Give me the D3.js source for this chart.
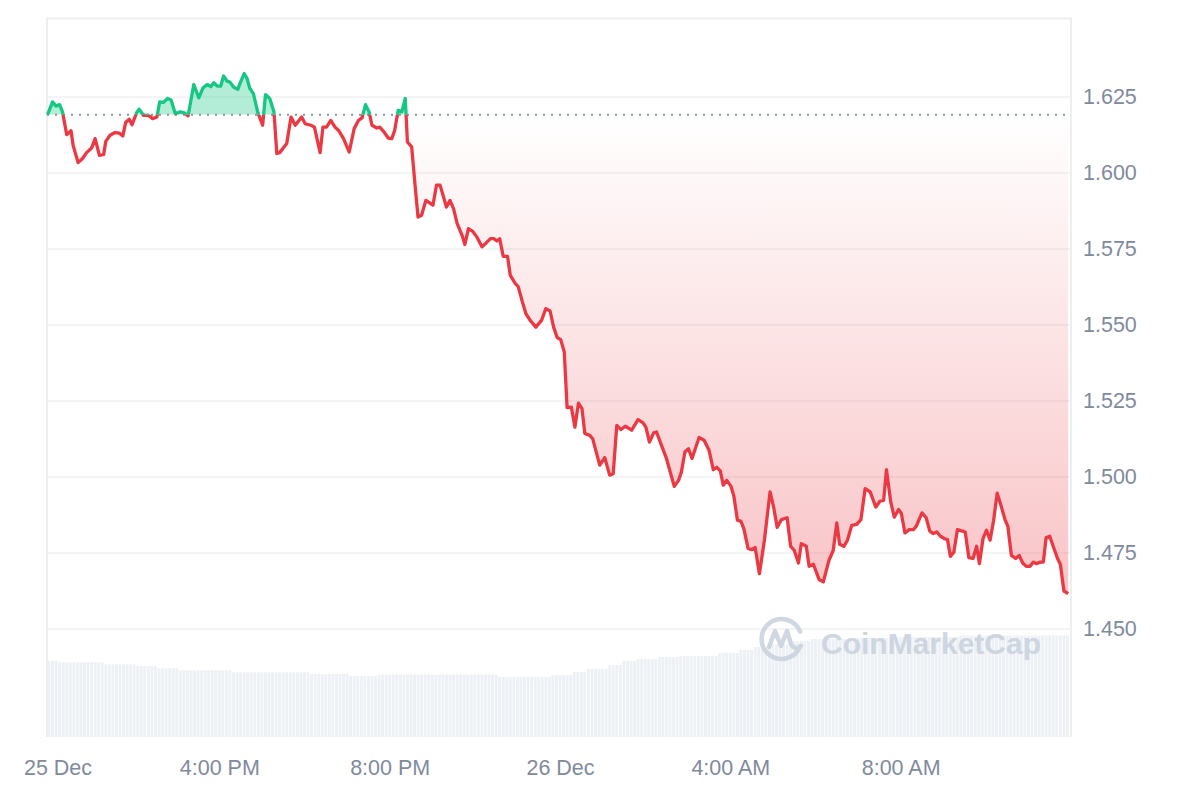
<!DOCTYPE html>
<html>
<head>
<meta charset="utf-8">
<script src="https://cdn.jsdelivr.net/npm/d3@7"></script>
<style>
  html, body { margin: 0; padding: 0; background: #ffffff; }
  svg { display: block; }
  text { font-family: "Liberation Sans", Arial, Helvetica, sans-serif; }
</style>
</head>
<body>
<svg id="chart" width="1200" height="800"></svg>
<script>
// ---------------- DATA ----------------
// minutes after 12:00 PM, 25 Dec
const minutes = [
  -2, 5, 10, 15, 19, 25, 31, 34, 41, 47, 53, 60, 65, 71, 77, 80, 86, 93, 99, 104,
  108, 113, 117, 124, 127, 133, 140, 146, 152, 156, 161, 167, 172, 178, 185, 190, 196, 204, 211, 217,
  223, 228, 232, 237, 242, 246, 251, 255, 260, 266, 269, 275, 279, 283, 288, 294, 301, 305, 311, 317,
  321, 325, 335, 341, 347, 356, 361, 369, 374, 382, 386, 391, 397, 403, 408, 415, 423, 430, 436, 441,
  446, 451, 455, 462, 466, 472, 478, 483, 487, 492, 497, 502, 505, 511, 516, 520, 525, 531, 541, 546,
  551, 560, 565, 570, 575, 582, 586, 591, 597, 603, 610, 616, 622, 627, 631, 635, 640, 646, 650, 657,
  661, 667, 672, 678, 686, 694, 700, 706, 711, 716, 721, 726, 730, 736, 741, 746, 751, 755, 762, 766,
  776, 783, 790, 795, 800, 806, 812, 821, 830, 837, 841, 846, 852, 856, 863, 870, 881, 887, 891, 896,
  901, 906, 916, 923, 930, 936, 941, 946, 950, 955, 961, 965, 970, 975, 979, 985, 990, 995, 1001, 1008,
  1016, 1021, 1026, 1032, 1040, 1045, 1050, 1056, 1060, 1067, 1071, 1077, 1085, 1091, 1099, 1105, 1110, 1114, 1120, 1125,
  1131, 1138, 1144, 1150, 1157, 1165, 1171, 1176, 1180, 1186, 1191, 1197, 1201, 1206, 1212, 1218, 1222, 1230, 1236, 1241,
  1246, 1251, 1256, 1262, 1266, 1270, 1275, 1280, 1287, 1291, 1296, 1302, 1307, 1311, 1316, 1321, 1326, 1331, 1336, 1342,
  1347, 1351, 1356, 1362, 1367, 1372, 1377, 1382, 1387, 1391, 1397, 1401, 1405, 1410, 1416, 1421, 1425, 1430, 1436
];
const prices = [
  1.6192, 1.6234, 1.6220, 1.6225, 1.6201, 1.6126, 1.6139, 1.6091, 1.6034, 1.6047, 1.6067, 1.6082, 1.6113, 1.6058, 1.6061, 1.6104, 1.6124, 1.6133, 1.6131, 1.6122,
  1.6166, 1.6177, 1.6159, 1.6201, 1.6210, 1.6190, 1.6190, 1.6179, 1.6184, 1.6234, 1.6232, 1.6245, 1.6240, 1.6195, 1.6201, 1.6199, 1.6188, 1.6291, 1.6247, 1.6280,
  1.6291, 1.6284, 1.6297, 1.6286, 1.6286, 1.6319, 1.6302, 1.6299, 1.6283, 1.6275, 1.6294, 1.6327, 1.6311, 1.6278, 1.6261, 1.6201, 1.6157, 1.6258, 1.6245, 1.6201,
  1.6064, 1.6067, 1.6097, 1.6184, 1.6157, 1.6184, 1.6162, 1.6157, 1.6151, 1.6067, 1.6151, 1.6151, 1.6173, 1.6151, 1.6140, 1.6113, 1.6069, 1.6146, 1.6173, 1.6181,
  1.6225, 1.6201, 1.6157, 1.6148, 1.6151, 1.6135, 1.6115, 1.6113, 1.6140, 1.6206, 1.6201, 1.6245, 1.6102, 1.6086, 1.5954, 1.5855, 1.5861, 1.5910, 1.5894, 1.5960,
  1.5960, 1.5888, 1.5910, 1.5883, 1.5834, 1.5795, 1.5765, 1.5817, 1.5808, 1.5789, 1.5757, 1.5770, 1.5784, 1.5784, 1.5776, 1.5784, 1.5726, 1.5726, 1.5663, 1.5636,
  1.5627, 1.5576, 1.5537, 1.5515, 1.5493, 1.5515, 1.5554, 1.5546, 1.5493, 1.5459, 1.5452, 1.5411, 1.5228, 1.5230, 1.5164, 1.5243, 1.5225, 1.5143, 1.5137, 1.5126,
  1.5039, 1.5064, 1.5006, 1.5011, 1.5170, 1.5156, 1.5167, 1.5154, 1.5189, 1.5178, 1.5164, 1.5115, 1.5145, 1.5148, 1.5104, 1.5061, 1.4969, 1.4989, 1.5016, 1.5082,
  1.5093, 1.5061, 1.5130, 1.5121, 1.5088, 1.5024, 1.5032, 1.5019, 1.4973, 1.4989, 1.4969, 1.4937, 1.4858, 1.4854, 1.4830, 1.4765, 1.4761, 1.4768, 1.4682, 1.4792,
  1.4951, 1.4901, 1.4834, 1.4860, 1.4866, 1.4772, 1.4759, 1.4717, 1.4781, 1.4772, 1.4706, 1.4713, 1.4663, 1.4655, 1.4726, 1.4759, 1.4849, 1.4779, 1.4772, 1.4792,
  1.4841, 1.4844, 1.4860, 1.4962, 1.4951, 1.4901, 1.4921, 1.4923, 1.5024, 1.4918, 1.4868, 1.4893, 1.4880, 1.4816, 1.4827, 1.4827, 1.4838, 1.4882, 1.4866, 1.4822,
  1.4814, 1.4819, 1.4805, 1.4797, 1.4794, 1.4739, 1.4753, 1.4827, 1.4822, 1.4819, 1.4735, 1.4732, 1.4772, 1.4715, 1.4797, 1.4825, 1.4792, 1.4858, 1.4947, 1.4901,
  1.4860, 1.4838, 1.4742, 1.4732, 1.4742, 1.4717, 1.4706, 1.4706, 1.4720, 1.4715, 1.4720, 1.4720, 1.4801, 1.4805, 1.4765, 1.4732, 1.4713, 1.4625, 1.4616
];
const openPrice = 1.6192;

// 24h volume (M USD) per 5-minute bar, run-length encoded: [bar count, value]
const volumeRuns = [
  [3, 76.3], [13, 74.7], [9, 72.7], [6, 71.0], [6, 68.7], [15, 66.7], [22, 64.7], [11, 63.0], [8, 61.0],
  [34, 62.5], [15, 60.0], [6, 62.0], [4, 65.0], [6, 68.0], [4, 72.0], [4, 76.0], [6, 78.0], [6, 80.0],
  [11, 81.0], [6, 84.0], [4, 87.0], [4, 90.0], [6, 93.0], [6, 96.0], [11, 98.0], [14, 99.0], [17, 100.0], [31, 101.5]
];

const yTicks = [1.450, 1.475, 1.500, 1.525, 1.550, 1.575, 1.600, 1.625];
const xTickHours = [0, 4, 8, 12, 16, 20];
const xTickLabels = ["25 Dec", "4:00 PM", "8:00 PM", "26 Dec", "4:00 AM", "8:00 AM"];

// ---------------- CHART ----------------
const svg = d3.select("#chart");
const start = new Date(2024, 11, 25, 12, 0, 0);
const toDate = m => new Date(start.getTime() + m * 60000);

const plotL = 47, plotR = 1071, plotT = 18.5, plotB = 737;

const x = d3.scaleTime()
  .domain([start, toDate(1440)])
  .range([49, 1071]);
const y = d3.scaleLinear()
  .domain([1.450, 1.625])
  .range([629, 97]);
const yVol = d3.scaleLinear()
  .domain([0, 120])
  .range([plotB, 617]);

const data = minutes.map((m, i) => ({ t: toDate(m), p: prices[i] }));
const yRef = y(openPrice);

// expand volume runs
const volumes = [];
volumeRuns.forEach(([n, v]) => { for (let k = 0; k < n; k++) volumes.push(v); });
const volData = volumes.map((v, i) => ({ t: toDate(-2 + 5 * i), v }));

const defs = svg.append("defs");
defs.append("clipPath").attr("id", "clipAbove")
  .append("rect").attr("x", 0).attr("y", 0).attr("width", 1200).attr("height", yRef);
defs.append("clipPath").attr("id", "clipBelow")
  .append("rect").attr("x", 0).attr("y", yRef).attr("width", 1200).attr("height", 800 - yRef);

const minP = d3.min(prices);
const redGrad = defs.append("linearGradient").attr("id", "redGrad")
  .attr("gradientUnits", "userSpaceOnUse")
  .attr("x1", 0).attr("x2", 0).attr("y1", yRef).attr("y2", y(minP));
redGrad.append("stop").attr("offset", "0%").attr("stop-color", "#ea3943").attr("stop-opacity", 0.0);
redGrad.append("stop").attr("offset", "100%").attr("stop-color", "#ea3943").attr("stop-opacity", 0.3);

// volume bars
const barW = x(toDate(5)) - x(toDate(0));
svg.append("g").selectAll("rect").data(volData).enter().append("rect")
  .attr("x", d => x(d.t))
  .attr("y", d => yVol(d.v))
  .attr("width", barW - 0.7)
  .attr("height", d => plotB - yVol(d.v))
  .attr("fill", "#edf0f4");

// grid lines
svg.append("g").selectAll("line").data(yTicks).enter().append("line")
  .attr("x1", plotL).attr("x2", plotR)
  .attr("y1", d => y(d)).attr("y2", d => y(d))
  .attr("stroke", "#eff0f2").attr("stroke-width", 1.5);

// frame
const frame = svg.append("g").attr("stroke", "#eeeeee").attr("stroke-width", 2).attr("fill", "none");
frame.append("line").attr("x1", plotL).attr("x2", plotR).attr("y1", plotT).attr("y2", plotT);
frame.append("line").attr("x1", plotL).attr("x2", plotL).attr("y1", plotT - 1).attr("y2", plotB);
frame.append("line").attr("x1", plotR).attr("x2", plotR).attr("y1", plotT - 1).attr("y2", plotB);

// watermark
const wm = svg.append("g").attr("opacity", 0.85);
const cx = 782, cy = 638, r = 20;
const a0 = 25 * Math.PI / 180;
wm.append("path")
  .attr("d", `M ${cx + r * Math.cos(a0)} ${cy + r * Math.sin(a0)} A ${r} ${r} 0 1 1 ${cx + r * Math.cos(a0)} ${cy - r * Math.sin(a0) + 2}`)
  .attr("fill", "none").attr("stroke", "#c8d1de").attr("stroke-width", 4.5).attr("stroke-linecap", "round");
wm.append("path")
  .attr("d", `M ${cx - 13} ${cy + 9} L ${cx - 7} ${cy - 7} L ${cx - 1} ${cy + 8} L ${cx + 5} ${cy - 7} L ${cx + 9} ${cy + 6} Q ${cx + 13} ${cy + 13} ${cx + 19} ${cy + 8}`)
  .attr("fill", "none").attr("stroke", "#c8d1de").attr("stroke-width", 4.5)
  .attr("stroke-linejoin", "round").attr("stroke-linecap", "round");
wm.append("text")
  .attr("x", 821).attr("y", 654)
  .attr("font-size", 30).attr("font-weight", "bold")
  .attr("fill", "#c8d1de")
  .text("CoinMarketCap");

// areas
const area = d3.area().x(d => x(d.t)).y0(yRef).y1(d => y(d.p));
svg.append("path").datum(data)
  .attr("d", area).attr("clip-path", "url(#clipAbove)")
  .attr("fill", "#16c784").attr("fill-opacity", 0.32);
svg.append("path").datum(data)
  .attr("d", area).attr("clip-path", "url(#clipBelow)")
  .attr("fill", "url(#redGrad)");

// reference line
svg.append("line")
  .attr("x1", plotL).attr("x2", plotR).attr("y1", yRef).attr("y2", yRef)
  .attr("stroke", "#8f949c").attr("stroke-width", 2).attr("stroke-dasharray", "2,6");

// price line
const line = d3.line().x(d => x(d.t)).y(d => y(d.p));
svg.append("path").datum(data)
  .attr("d", line).attr("clip-path", "url(#clipAbove)")
  .attr("fill", "none").attr("stroke", "#16c784").attr("stroke-width", 3.3)
  .attr("stroke-linejoin", "round");
svg.append("path").datum(data)
  .attr("d", line).attr("clip-path", "url(#clipBelow)")
  .attr("fill", "none").attr("stroke", "#ea3943").attr("stroke-width", 3.3)
  .attr("stroke-linejoin", "round");

// axes
const yAxis = d3.axisRight(y).tickValues(yTicks).tickFormat(d3.format(".3f")).tickSize(0).tickPadding(0);
const gy = svg.append("g").attr("transform", "translate(1083,0)").call(yAxis);
gy.select(".domain").remove();
gy.selectAll("text").attr("font-size", 21.5).attr("fill", "#808a9d")
  .attr("font-family", '"Liberation Sans", Arial, sans-serif');

const xAxis = d3.axisBottom(x)
  .tickValues(xTickHours.map(h => toDate(h * 60)))
  .tickFormat((d, i) => xTickLabels[i])
  .tickSize(0).tickPadding(0);
const gx = svg.append("g").attr("transform", "translate(0,760)").call(xAxis);
gx.select(".domain").remove();
gx.selectAll("text").attr("font-size", 21.5).attr("fill", "#808a9d")
  .attr("dy", "0.72em")
  .attr("font-family", '"Liberation Sans", Arial, sans-serif');
gx.selectAll(".tick").filter((d, i) => i === 0).select("text").attr("dx", 8.5);
</script>
</body>
</html>
